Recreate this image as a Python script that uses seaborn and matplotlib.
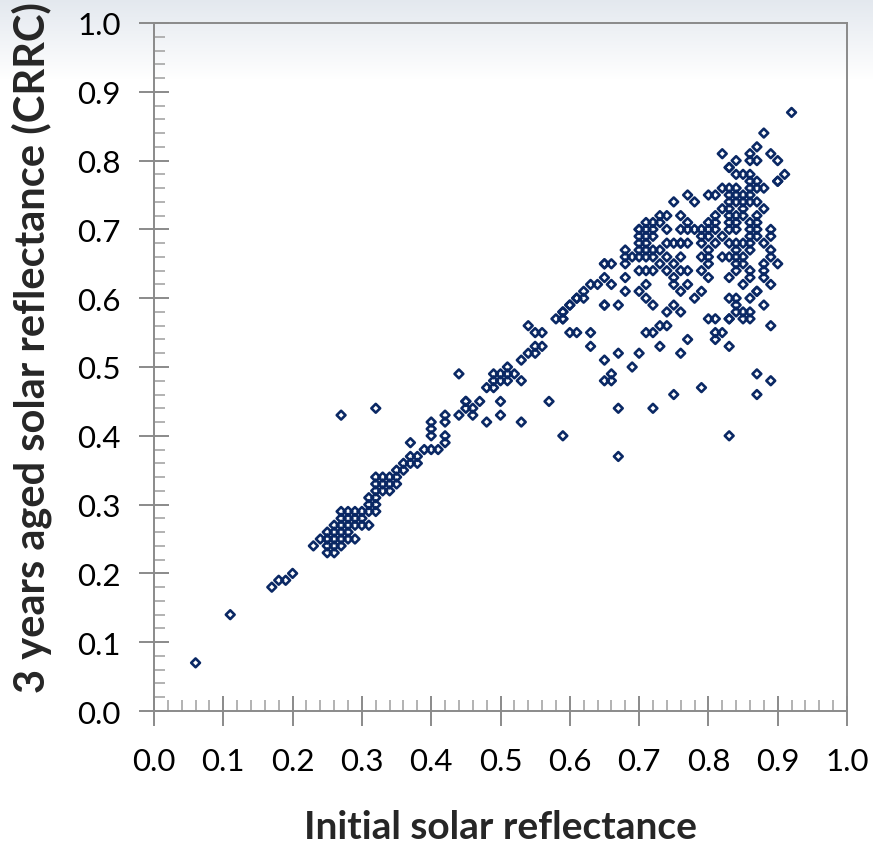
import numpy as np
import pandas as pd
import matplotlib
matplotlib.use("Agg")
import matplotlib.pyplot as plt
import seaborn as sns
from matplotlib.ticker import MultipleLocator, FormatStrFormatter

# ---- data (initial, 3-year aged) ----
low_x = [0.06, 0.11, 0.17, 0.18, 0.19, 0.20, 0.23]
low_y = [0.07, 0.14, 0.18, 0.19, 0.19, 0.20, 0.24]

cluster_x = [0.25, 0.26, 0.25, 0.26, 0.27, 0.25, 0.26, 0.27, 0.28, 0.29,
             0.25, 0.26, 0.27, 0.28, 0.26, 0.27, 0.28, 0.29, 0.27, 0.28,
             0.29, 0.27, 0.28, 0.29, 0.30, 0.30, 0.31, 0.32, 0.31, 0.32,
             0.31, 0.32, 0.32, 0.32, 0.32, 0.33, 0.34, 0.34, 0.35, 0.35,
             0.36, 0.37, 0.37, 0.38, 0.38, 0.37, 0.39, 0.40, 0.41, 0.40,
             0.40, 0.40, 0.42, 0.42, 0.42, 0.42, 0.27, 0.32, 0.30, 0.31,
             0.33, 0.34, 0.33, 0.36, 0.35, 0.25, 0.24]
cluster_y = [0.23, 0.23, 0.24, 0.24, 0.24, 0.25, 0.25, 0.25, 0.25, 0.25,
             0.26, 0.26, 0.26, 0.26, 0.27, 0.27, 0.27, 0.27, 0.28, 0.28,
             0.28, 0.29, 0.29, 0.29, 0.29, 0.27, 0.27, 0.29, 0.30, 0.30,
             0.31, 0.31, 0.32, 0.33, 0.34, 0.33, 0.34, 0.33, 0.35, 0.33,
             0.36, 0.37, 0.36, 0.37, 0.36, 0.39, 0.38, 0.38, 0.38, 0.40,
             0.41, 0.42, 0.43, 0.42, 0.40, 0.39, 0.43, 0.44, 0.28, 0.29,
             0.32, 0.32, 0.34, 0.35, 0.34, 0.25, 0.25]

mid_x = [0.44, 0.44, 0.45, 0.45, 0.46, 0.46, 0.47, 0.48, 0.48, 0.49,
         0.49, 0.49, 0.50, 0.50, 0.50, 0.50, 0.51, 0.51, 0.51, 0.52,
         0.53, 0.53, 0.53, 0.54, 0.55, 0.54, 0.55, 0.56, 0.55, 0.56,
         0.57, 0.59, 0.58, 0.59, 0.59, 0.60, 0.61, 0.60, 0.61, 0.45]
mid_y = [0.49, 0.43, 0.45, 0.44, 0.44, 0.43, 0.45, 0.47, 0.42, 0.47,
         0.48, 0.49, 0.49, 0.48, 0.45, 0.43, 0.49, 0.50, 0.48, 0.49,
         0.48, 0.51, 0.42, 0.52, 0.52, 0.56, 0.55, 0.55, 0.53, 0.53,
         0.45, 0.40, 0.57, 0.57, 0.58, 0.59, 0.60, 0.55, 0.55, 0.45]

upper_a_x = [0.77, 0.75, 0.74, 0.76, 0.77, 0.77, 0.71, 0.70, 0.70, 0.71,
             0.72, 0.73, 0.70, 0.71, 0.72, 0.70, 0.71, 0.74, 0.76, 0.76,
             0.77, 0.68, 0.70, 0.71, 0.72, 0.73, 0.68, 0.69, 0.70, 0.72,
             0.65, 0.65, 0.66, 0.68, 0.75, 0.70, 0.71, 0.74, 0.76, 0.77,
             0.65, 0.68, 0.75, 0.63, 0.71, 0.75, 0.77, 0.68, 0.70, 0.76,
             0.61, 0.62, 0.71, 0.60, 0.65, 0.65, 0.67, 0.72, 0.75, 0.59,
             0.76, 0.59, 0.74, 0.73, 0.74]
upper_a_y = [0.75, 0.74, 0.72, 0.72, 0.71, 0.70, 0.71, 0.70, 0.70, 0.70,
             0.70, 0.71, 0.69, 0.69, 0.69, 0.68, 0.68, 0.68, 0.68, 0.68,
             0.68, 0.67, 0.67, 0.67, 0.67, 0.67, 0.66, 0.66, 0.66, 0.66,
             0.65, 0.65, 0.65, 0.65, 0.65, 0.64, 0.64, 0.64, 0.64, 0.64,
             0.63, 0.63, 0.63, 0.62, 0.62, 0.62, 0.62, 0.61, 0.61, 0.61,
             0.60, 0.60, 0.60, 0.59, 0.59, 0.59, 0.59, 0.59, 0.59, 0.58,
             0.58, 0.57, 0.58, 0.56, 0.56]

upper_b_x = [0.92, 0.88, 0.87, 0.82, 0.86, 0.89, 0.84, 0.86, 0.87, 0.90,
             0.83, 0.83, 0.84, 0.85, 0.86, 0.91, 0.86, 0.87, 0.90, 0.90,
             0.82, 0.83, 0.84, 0.86, 0.87, 0.88, 0.80, 0.81, 0.83, 0.84,
             0.85, 0.86, 0.78, 0.83, 0.84, 0.85, 0.86, 0.87, 0.82, 0.83,
             0.85, 0.88, 0.81, 0.83, 0.84, 0.85, 0.87, 0.80, 0.81, 0.83,
             0.84, 0.86, 0.87, 0.79, 0.80, 0.81, 0.83, 0.84, 0.86, 0.87,
             0.89, 0.79, 0.80, 0.82, 0.86, 0.87, 0.89, 0.79, 0.81, 0.83,
             0.84, 0.85, 0.86, 0.88, 0.80, 0.84, 0.86, 0.89, 0.80, 0.82,
             0.83, 0.84, 0.85, 0.89, 0.80, 0.84, 0.85, 0.88, 0.90, 0.79,
             0.84, 0.86, 0.88, 0.80, 0.83, 0.86, 0.88]
upper_b_y = [0.87, 0.84, 0.82, 0.81, 0.81, 0.81, 0.80, 0.80, 0.80, 0.80,
             0.79, 0.79, 0.78, 0.78, 0.78, 0.78, 0.77, 0.77, 0.77, 0.77,
             0.76, 0.76, 0.76, 0.76, 0.76, 0.76, 0.75, 0.75, 0.75, 0.75,
             0.75, 0.75, 0.74, 0.74, 0.74, 0.74, 0.74, 0.74, 0.73, 0.73,
             0.73, 0.73, 0.72, 0.72, 0.72, 0.72, 0.72, 0.71, 0.71, 0.71,
             0.71, 0.71, 0.71, 0.70, 0.70, 0.70, 0.70, 0.70, 0.70, 0.70,
             0.70, 0.69, 0.69, 0.69, 0.69, 0.69, 0.69, 0.68, 0.68, 0.68,
             0.68, 0.68, 0.68, 0.68, 0.67, 0.67, 0.67, 0.67, 0.66, 0.66,
             0.66, 0.66, 0.66, 0.66, 0.65, 0.65, 0.65, 0.65, 0.65, 0.64,
             0.64, 0.64, 0.64, 0.63, 0.63, 0.63, 0.63]

upper_c_x = [0.78, 0.85, 0.87, 0.87, 0.89, 0.86, 0.83, 0.84, 0.88, 0.84,
             0.84, 0.85, 0.86, 0.80, 0.81, 0.83, 0.83, 0.85, 0.86, 0.89,
             0.81, 0.82, 0.81, 0.77, 0.83, 0.79, 0.74, 0.76, 0.73, 0.78,
             0.79, 0.75, 0.72, 0.74, 0.76, 0.71, 0.72, 0.73]
upper_c_y = [0.60, 0.62, 0.61, 0.61, 0.62, 0.60, 0.60, 0.60, 0.59, 0.59,
             0.58, 0.58, 0.58, 0.57, 0.57, 0.57, 0.57, 0.57, 0.57, 0.56,
             0.55, 0.55, 0.54, 0.54, 0.53, 0.61, 0.70, 0.70, 0.72, 0.70,
             0.66, 0.68, 0.71, 0.66, 0.66, 0.66, 0.64, 0.65]

scatter_x = [0.63, 0.71, 0.72, 0.63, 0.73, 0.67, 0.70, 0.76, 0.65, 0.69,
             0.66, 0.65, 0.66, 0.87, 0.89, 0.79, 0.75, 0.87, 0.67, 0.72,
             0.83, 0.67, 0.64, 0.66, 0.62]
scatter_y = [0.55, 0.55, 0.55, 0.53, 0.53, 0.52, 0.52, 0.52, 0.51, 0.50,
             0.49, 0.48, 0.48, 0.49, 0.48, 0.47, 0.46, 0.46, 0.44, 0.44,
             0.40, 0.37, 0.62, 0.62, 0.61]

initial = low_x + cluster_x + mid_x + upper_a_x + upper_b_x + upper_c_x + scatter_x
aged = low_y + cluster_y + mid_y + upper_a_y + upper_b_y + upper_c_y + scatter_y
df = pd.DataFrame({"Initial solar reflectance": initial,
                   "3 years aged solar reflectance (CRRC)": aged})

xticks = [0.0, 0.1, 0.2, 0.3, 0.4, 0.5, 0.6, 0.7, 0.8, 0.9, 1.0]
yticks = [0.0, 0.1, 0.2, 0.3, 0.4, 0.5, 0.6, 0.7, 0.8, 0.9, 1.0]

# ---- figure ----
sns.set_style("white")
plt.rcParams['font.family'] = ['Lato', 'DejaVu Sans']

W, H = 873, 854
fig = plt.figure(figsize=(W / 100, H / 100), dpi=100)

# slide-like background gradient at the top
bg = fig.add_axes([0, 0, 1, 1], zorder=-10)
grad = np.ones((H, 1, 3))
top = np.array([0.89, 0.91, 0.935])
for i in range(80):
    t = i / 80.0
    grad[i, 0, :] = top * (1 - t) + np.array([1.0, 1.0, 1.0]) * t
bg.imshow(grad, aspect='auto', extent=[0, 1, 0, 1], origin='upper')
bg.axis('off')

ax = fig.add_axes([154 / W, 1 - 712 / H, 693 / W, 688 / H])
ax.set_facecolor('none')

sns.scatterplot(data=df, x="Initial solar reflectance",
                y="3 years aged solar reflectance (CRRC)",
                marker='D', s=20, facecolors='none', edgecolor='#0a2864',
                linewidth=1.9, ax=ax, zorder=3)

ax.set_xlim(0, 1.0)
ax.set_ylim(0, 1.0)
ax.set_xticks(xticks)
ax.set_yticks(yticks)
ax.xaxis.set_major_formatter(FormatStrFormatter('%.1f'))
ax.yaxis.set_major_formatter(FormatStrFormatter('%.1f'))
ax.xaxis.set_minor_locator(MultipleLocator(0.02))
ax.yaxis.set_minor_locator(MultipleLocator(0.02))

spine_c = '#8a8a8a'
for s in ax.spines.values():
    s.set_visible(True)
    s.set_color(spine_c)
    s.set_linewidth(1.4)

ax.tick_params(axis='both', which='major', direction='inout', length=22,
               width=1.4, color=spine_c, labelsize=22.5, labelcolor='black')
ax.tick_params(axis='x', which='major', pad=15)
ax.tick_params(axis='y', which='major', pad=13)
ax.tick_params(axis='both', which='minor', direction='in', length=8,
               width=1.2, color='#a6a6a6')
ax.tick_params(top=False, right=False, which='both')
ax.tick_params(bottom=True, left=True, which='both')

ax.set_xlabel("Initial solar reflectance", fontsize=28, fontweight='bold')
ax.set_ylabel("3 years aged solar reflectance (CRRC)", fontsize=30,
              fontweight='bold')
ax.xaxis.set_label_coords(0.5, (712 - 810) / 688)
ax.yaxis.set_label_coords((52 - 154) / 693, 0.53)

fig.savefig("out.png", dpi=100)
